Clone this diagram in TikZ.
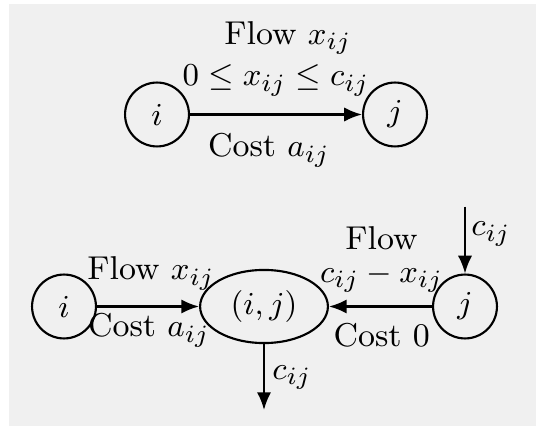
\documentclass[tikz,border=0pt]{standalone}
\usetikzlibrary{arrows.meta,shapes.geometric}
\definecolor{bggray}{HTML}{F0F0F0}
\tikzset{
  px/.style={x=0.2817pt,y=-0.2817pt},
  vtx/.style={circle,draw,line width=0.6pt,minimum size=18pt,inner sep=0pt},
  arcnode/.style={ellipse,draw,line width=0.6pt,minimum width=36pt,minimum height=20.6pt,inner sep=0pt},
  arr/.style={line width=0.6pt,-{Latex[length=5pt,width=4pt]}},
  lbl/.style={anchor=base,inner sep=0pt,align=center}
}
\begin{document}
\begin{tikzpicture}[px,font=\fontsize{9.3}{11}\selectfont]
\useasboundingbox (0,0) rectangle (536,426);
\fill[white] (0,0) rectangle (536,426);
\fill[bggray] (9,4) rectangle (536,426);
% top graph
\node[vtx] (ti) at (157,114.5) {$i$};
\node[vtx] (tj) at (395,114.5) {$j$};
\draw[arr] (ti) -- (tj);
\node[lbl] (tflow) at (288,44.3) {Flow $x_{ij}$};
\node[lbl] (tbound) at (276,86) {$0\le x_{ij}\le c_{ij}$};
\node[lbl] (tcost) at (269,156.7) {Cost $a_{ij}$};
% bottom graph
\node[vtx] (bi) at (64,306.5) {$i$};
\node[arcnode] (e) at (264,306.5) {$(i,j)$};
\node[vtx] (bj) at (465,306.5) {$j$};
\coordinate (src) at (465,206.7);
\coordinate (snk) at (264,410);
\draw[arr] (bi) -- (e);
\draw[arr] (bj) -- (e);
\draw[arr] (src) -- (bj);
\draw[arr] (e) -- (snk);
\node[lbl] (bflow) at (151,280) {Flow $x_{ij}$};
\node[lbl] (bcost) at (149,336.7) {Cost $a_{ij}$};
\node[lbl,anchor=north] (rflow) at (381.5,226) {Flow\\[-1.8pt]$c_{ij}-x_{ij}$};
\node[lbl] (rcost) at (381.7,346.7) {Cost 0};
\node[lbl] (csrc) at (491,236) {$c_{ij}$};
\node[lbl] (csnk) at (292,379) {$c_{ij}$};
\end{tikzpicture}
\end{document}
